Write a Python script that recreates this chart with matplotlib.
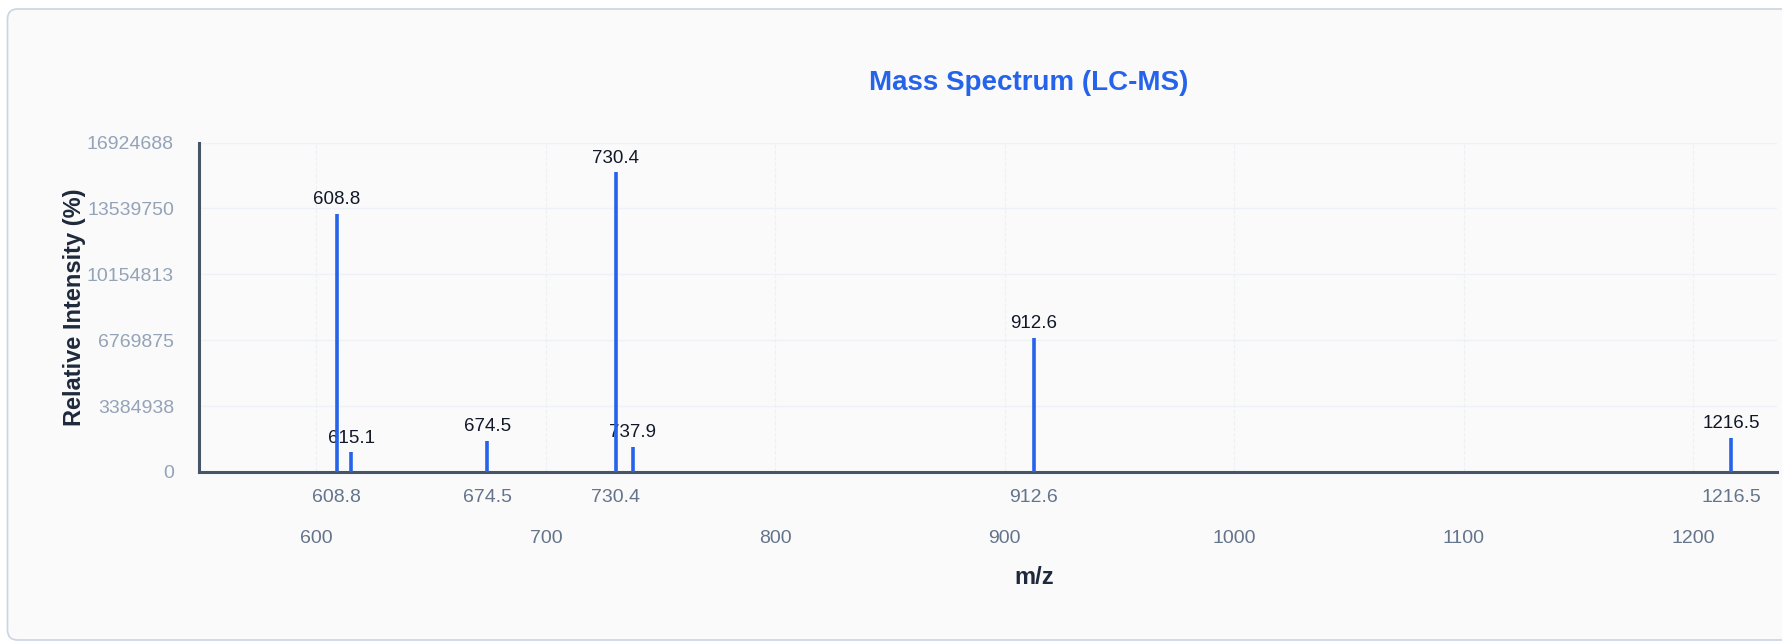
import matplotlib
matplotlib.use("Agg")
import matplotlib.pyplot as plt
from matplotlib.patches import FancyBboxPatch

plt.rcParams["font.family"] = ["Liberation Sans", "DejaVu Sans"]

# peak list
peak_mz = [608.8, 615.1, 674.5, 730.4, 737.9, 912.6, 1216.5]
peak_intensity = [13263000, 1007000, 1592000, 15386080, 1299000, 6881000, 1761000]

# peaks that also get a label on the x axis
labelled_mz = [608.8, 674.5, 730.4, 912.6, 1216.5]
labelled_text = ["608.8", "674.5", "730.4", "912.6", "1216.5"]

mz_ticks = [600, 700, 800, 900, 1000, 1100, 1200]
mz_tick_labels = ["600", "700", "800", "900", "1000", "1100", "1200"]

y_ticks = [0, 3384937.6, 6769875.2, 10154812.8, 13539750.4, 16924688]
y_tick_labels = ["0", "3384938", "6769875", "10154813", "13539750", "16924688"]

W, H = 1783, 643
fig = plt.figure(figsize=(W / 100, H / 100), dpi=100)
fig.patch.set_facecolor("white")

# card background
bg = fig.add_axes([0, 0, 1, 1], zorder=-10)
bg.set_xlim(0, W)
bg.set_ylim(H, 0)
bg.axis("off")
bg.add_patch(FancyBboxPatch((7.5, 9), 1850, 631, boxstyle="round,pad=0,rounding_size=10",
                            facecolor="#fafafa", edgecolor="#cbd5e1", linewidth=1.2))

ax = fig.add_axes([199 / W, 1 - 472 / H, (1777 - 199) / W, (472 - 142.5) / H])
ax.set_facecolor("none")

ax.vlines(peak_mz, 0, peak_intensity, colors="#2563eb", linewidth=2.6, zorder=3)
for mz, inten in zip(peak_mz, peak_intensity):
    ax.annotate(f"{mz}", (mz, inten), xytext=(0, 4), textcoords="offset points",
                ha="center", va="bottom", fontsize=13.5, color="#111827", zorder=2)

ax.set_xlim(548.8, 1236.5)
ax.set_ylim(0, y_ticks[-1])

ax.set_xticks(labelled_mz)
ax.set_xticklabels(labelled_text)
ax.set_xticks(mz_ticks, minor=True)
ax.set_xticklabels(mz_tick_labels, minor=True)
ax.tick_params(axis="x", which="major", length=0, pad=12, labelsize=14, labelcolor="#64748b")
ax.tick_params(axis="x", which="minor", length=0, pad=42, labelsize=14, labelcolor="#64748b")

ax.set_yticks(y_ticks)
ax.set_yticklabels(y_tick_labels)
ax.tick_params(axis="y", length=0, pad=18, labelsize=14, labelcolor="#94a3b8")

ax.grid(False)
ax.grid(True, axis="y", which="major", color="#eef2f7", linewidth=1, zorder=0)
ax.grid(True, axis="x", which="minor", color="#eef0f4", linewidth=0.8, linestyle="--", zorder=0)
ax.set_axisbelow(True)

for side in ["top", "right"]:
    ax.spines[side].set_visible(False)
for side in ["left", "bottom"]:
    ax.spines[side].set_color("#475569")
    ax.spines[side].set_linewidth(2.2)

ax.set_ylabel("Relative Intensity (%)", fontsize=17, fontweight="bold", color="#1e293b")
ax.yaxis.set_label_coords(-(199 - 86) / (1777 - 199), 0.5)

fig.text(1029 / W, 1 - 83 / H, "Mass Spectrum (LC-MS)", ha="center", va="center",
         fontsize=20, fontweight="bold", color="#2563eb")
fig.text(1034 / W, 1 - 577 / H, "m/z", ha="center", va="center",
         fontsize=17, fontweight="bold", color="#1e293b")

fig.savefig("out.png", dpi=100)
